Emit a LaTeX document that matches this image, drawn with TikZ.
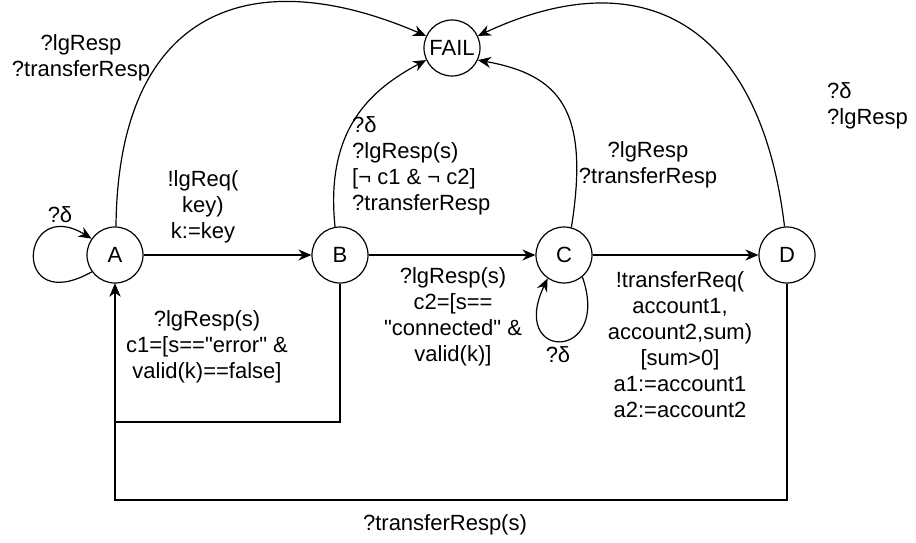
\documentclass[tikz,border=0pt]{standalone}
\usepackage{fontspec}
\setmainfont{Liberation Sans}[Ligatures=TeXOff]
\usetikzlibrary{arrows.meta}
\newcommand{\dq}{\symbol{34}}
\begin{document}
\begin{tikzpicture}[x=1pt,y=-1pt,
  state/.style={circle,draw,line width=1.2pt,minimum size=56pt,inner sep=0pt,font=\fontsize{22}{26}\selectfont},
  lbl/.style={inner sep=0pt,align=center,font=\fontsize{22}{26}\selectfont},
  lbll/.style={inner sep=0pt,align=left,anchor=west,font=\fontsize{22}{26}\selectfont},
  edge/.style={line width=1.2pt,-{Stealth[length=13pt,width=11pt]}},
  line/.style={line width=1.2pt}]
\useasboundingbox (0,0) rectangle (916,543);

\node[state] (A) at (115,255) {A};
\node[state] (B) at (340,255) {B};
\node[state] (C) at (564,255) {C};
\node[state] (D) at (787,255) {D};
\node[state] (F) at (452,48) {FAIL};

% straight transitions
\draw[edge] (A) -- (B);
\draw[edge] (B) -- (C);
\draw[edge] (C) -- (D);

% self loops
\draw[edge] (A.216) .. controls (10,318) and (20,195) .. (A.145);
\draw[edge] (C.-50) .. controls (612,362) and (508,362) .. (C.-125);

% to FAIL
\draw[edge] (A.88) .. controls (118,10) and (250,-40) .. (F.155);
\draw[edge] (B.100) .. controls (325,130) and (370,90) .. (F.205);
\draw[edge] (C.75) .. controls (590,110) and (560,75) .. (F.-25);
\draw[edge] (D.95) .. controls (760,20) and (640,-40) .. (F.25);

% back to A
\draw[edge] (B.south) -- (B |- 0,422) -- (A |- 0,422) -- (A.south);
\draw[edge] (D.south) -- (D |- 0,500) -- (A |- 0,500) -- (A.south);

% labels
\node[lbl] (lAloop) at (60,215) {?δ};
\node[lbl] (lCloop) at (558,355) {?δ};
\node[lbl] (lAF) at (81,58) {?lgResp\\?transferResp};
\node[lbll] (lBF) at (352,166) {?δ\\?lgResp(s)\\{[}¬ c1 \& ¬ c2{]}\\?transferResp};
\node[lbl] (lCF) at (648,165) {?lgResp\\?transferResp};
\node[lbll] (lDF) at (827,106) {?δ\\?lgResp};
\node[lbl] (lAB) at (203,207) {!lgReq(\\key)\\k:=key};
\node[lbl] (lBC) at (453,317) {?lgResp(s)\\c2={[}s==\\\dq connected\dq{} \&\\valid(k){]}};
\node[lbl] (lBA) at (207,347) {?lgResp(s)\\c1={[}s==\dq error\dq{} \&\\valid(k)==false{]}};
\node[lbl] (lCD) at (680,345) {!transferReq(\\account1,\\account2,sum)\\{[}sum>0{]}\\a1:=account1\\a2:=account2};
\node[lbl] (lDA) at (445,525) {?transferResp(s)};
\end{tikzpicture}
\end{document}
